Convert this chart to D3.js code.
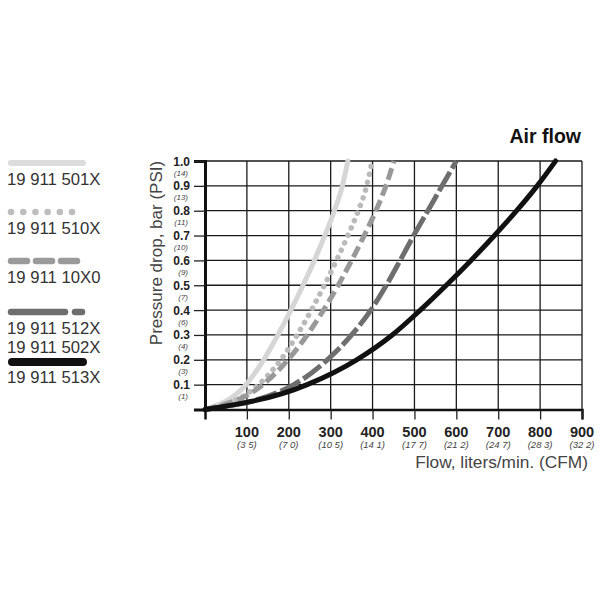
<!DOCTYPE html>
<html><head><meta charset="utf-8">
<script src="https://cdn.jsdelivr.net/npm/d3@7"></script>
<style>body{margin:0;background:#fff}svg{display:block;font-family:"Liberation Sans",Arial,sans-serif}</style>
</head><body><svg id="c" width="600" height="600"></svg>
<script>
// Data (pressure levels in bar, flow in liters/min read at each level)
const pressure = [0, 0.1, 0.2, 0.3, 0.4, 0.5, 0.6, 0.7, 0.8, 0.9, 1.0];
const flow501X = [0, 98, 140, 174, 205, 234, 261, 286, 309, 328, 341];
const flow510X = [0, 128, 181, 220, 254, 285, 314, 341, 366, 386, 399];
const flow10X0 = [0, 138, 198, 244, 283, 318, 350, 380, 408, 432, 451];
const flow512X = [0, 212, 292, 350, 396, 433, 466, 498, 532, 566, 600];
const flow513X = [0, 244, 362, 447, 514, 576, 635, 691, 744, 793, 837];
const xTicks = [100, 200, 300, 400, 500, 600, 700, 800, 900];
const xSubLabels = ["(3 5)", "(7 0)", "(10 5)", "(14 1)", "(17 7)", "(21 2)", "(24 7)", "(28 3)", "(32 2)"];
const yTicks = [0.1, 0.2, 0.3, 0.4, 0.5, 0.6, 0.7, 0.8, 0.9, 1.0];
const ySubLabels = ["(1)", "(3)", "(4)", "(6)", "(7)", "(9)", "(10)", "(11)", "(13)", "(14)"];
const legendNames = ["19 911 501X", "19 911 510X", "19 911 10X0", "19 911 512X", "19 911 502X", "19 911 513X"];

const svg = d3.select("#c");
const x = d3.scaleLinear().domain([0, 900]).range([205, 582]);
const y = d3.scaleLinear().domain([0, 1]).range([409.5, 161]);

// grid
const g = svg.append("g");
g.selectAll(".vg").data(xTicks).join("line")
  .attr("x1", d => x(d)).attr("x2", d => x(d)).attr("y1", y(1)).attr("y2", y(0))
  .attr("stroke", "#1a1a1a").attr("stroke-width", 1.3);
g.selectAll(".hg").data(yTicks).join("line")
  .attr("x1", x(0)).attr("x2", x(900)).attr("y1", d => y(d)).attr("y2", d => y(d))
  .attr("stroke", "#1a1a1a").attr("stroke-width", 1.3);

// series
const series = [
  {flows: flow501X, color: "#d6d6d6", dash: null, cap: "round", w: 5},
  {flows: flow510X, color: "#bababa", dash: "0.1,8", cap: "round", w: 5.5},
  {flows: flow10X0, color: "#999999", dash: "12,5", cap: "butt", w: 5},
  {flows: flow512X, color: "#6e6e6e", dash: "22,4", cap: "butt", w: 5},
  {flows: flow513X, color: "#111111", dash: null, cap: "round", w: 5}
];
const line = d3.line().x(d => x(d[0])).y(d => y(d[1])).curve(d3.curveMonotoneX);
series.forEach(s => {
  const pts = pressure.map((p, i) => [s.flows[i], p]);
  svg.append("path").attr("d", line(pts)).attr("fill", "none")
    .attr("stroke", s.color).attr("stroke-width", s.w)
    .attr("stroke-linecap", s.cap).attr("stroke-dasharray", s.dash);
});

// axes
const xAxis = d3.axisBottom(x).tickValues(xTicks).tickSize(10).tickFormat("");
const xa = svg.append("g").attr("transform", `translate(0,${y(0)})`).call(xAxis);
xa.select(".domain").attr("stroke", "#111").attr("stroke-width", 2.5);
xa.selectAll(".tick line").attr("stroke", "#222").attr("stroke-width", 1.3);
const yAxis = d3.axisLeft(y).tickValues(yTicks).tickSize(11).tickFormat("");
const ya = svg.append("g").attr("transform", `translate(${x(0)},0)`).call(yAxis);
ya.select(".domain").attr("stroke", "#111").attr("stroke-width", 3);
ya.selectAll(".tick line").attr("stroke", "#222").attr("stroke-width", 1.3);

// tick labels
svg.selectAll(".xl").data(xTicks).join("text")
  .attr("x", d => x(d)).attr("y", 437).attr("text-anchor", "middle")
  .attr("font-size", 14.5).attr("font-weight", "bold").attr("fill", "#222").text(d => d);
svg.selectAll(".xs").data(xTicks).join("text")
  .attr("x", d => x(d)).attr("y", 448).attr("text-anchor", "middle")
  .attr("font-size", 9.5).attr("font-style", "italic").attr("fill", "#444")
  .text((d, i) => xSubLabels[i]);
svg.selectAll(".yl").data(yTicks).join("text")
  .attr("x", 190).attr("y", d => y(d) + 4.5).attr("text-anchor", "end")
  .attr("font-size", 12).attr("font-weight", "bold").attr("fill", "#222").text(d => d.toFixed(1));
svg.selectAll(".ys").data(yTicks).join("text")
  .attr("x", 188).attr("y", d => y(d) + 14.5).attr("text-anchor", "end")
  .attr("font-size", 8).attr("font-style", "italic").attr("fill", "#444")
  .text((d, i) => ySubLabels[i]);

// titles
svg.append("text").attr("x", 581).attr("y", 143).attr("text-anchor", "end")
  .attr("font-size", 19.5).attr("font-weight", "bold").attr("fill", "#111").text("Air flow");
svg.append("text").attr("x", 588).attr("y", 468).attr("text-anchor", "end")
  .attr("font-size", 17.3).attr("fill", "#444").text("Flow, liters/min. (CFM)");
svg.append("text").attr("transform", "translate(162,253) rotate(-90)").attr("text-anchor", "middle")
  .attr("font-size", 17).attr("fill", "#444").text("Pressure drop, bar (PSI)");

// legend
const lg = svg.append("g");
lg.append("line").attr("x1", 11).attr("x2", 83).attr("y1", 163).attr("y2", 163)
  .attr("stroke", "#dcdcdc").attr("stroke-width", 6).attr("stroke-linecap", "round");
lg.append("line").attr("x1", 11).attr("x2", 84).attr("y1", 212).attr("y2", 212)
  .attr("stroke", "#bdbdbd").attr("stroke-width", 6.5).attr("stroke-linecap", "round").attr("stroke-dasharray", "0.1,12.1");
lg.append("line").attr("x1", 11).attr("x2", 77).attr("y1", 261).attr("y2", 261)
  .attr("stroke", "#9a9a9a").attr("stroke-width", 6.5).attr("stroke-linecap", "round").attr("stroke-dasharray", "16,9");
lg.append("line").attr("x1", 11).attr("x2", 65).attr("y1", 312).attr("y2", 312)
  .attr("stroke", "#6e6e6e").attr("stroke-width", 6.5).attr("stroke-linecap", "round");
lg.append("line").attr("x1", 75).attr("x2", 82).attr("y1", 312).attr("y2", 312)
  .attr("stroke", "#6e6e6e").attr("stroke-width", 6.5).attr("stroke-linecap", "round");
lg.append("line").attr("x1", 12).attr("x2", 83).attr("y1", 362).attr("y2", 362)
  .attr("stroke", "#111").attr("stroke-width", 8).attr("stroke-linecap", "round");
const legY = [185, 234, 283, 334, 353, 383];
lg.selectAll("text").data(legendNames).join("text")
  .attr("x", 7).attr("y", (d, i) => legY[i]).attr("font-size", 16.7).attr("fill", "#333").text(d => d);
</script></body></html>
